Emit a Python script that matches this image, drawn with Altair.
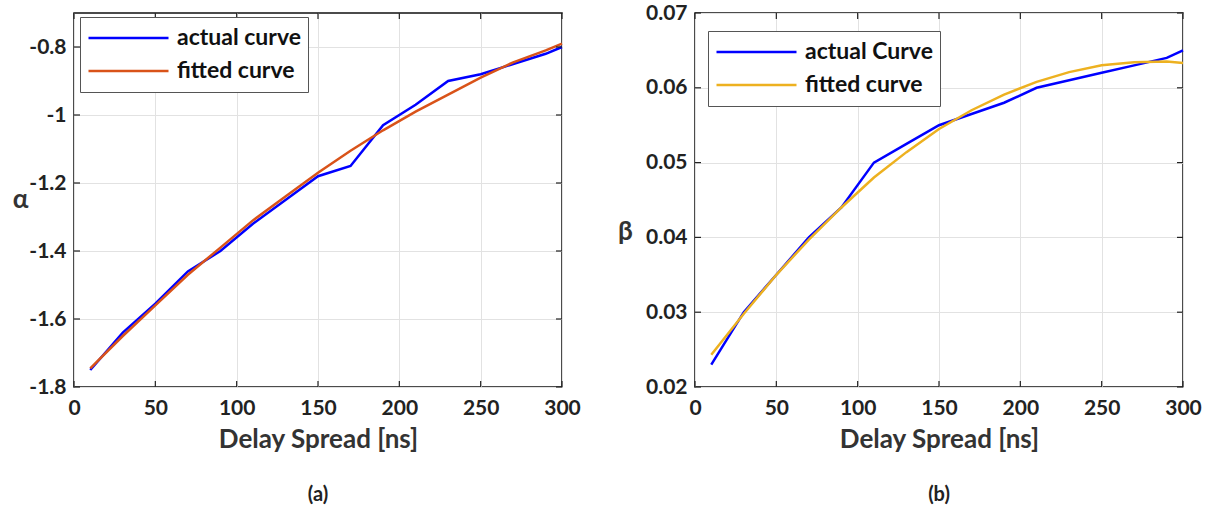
import altair as alt
import pandas as pd

x_vals = [10, 30, 50, 70, 90, 110, 130, 150, 170, 190, 210, 230, 250, 270, 290, 300]

alpha_actual = [-1.75, -1.64, -1.555, -1.46, -1.40, -1.32, -1.25, -1.18, -1.15, -1.03,
                -0.97, -0.90, -0.88, -0.85, -0.82, -0.80]
alpha_fitted = [-1.745, -1.65, -1.56, -1.47, -1.39, -1.31, -1.24, -1.17, -1.105, -1.045,
                -0.99, -0.94, -0.89, -0.845, -0.81, -0.79]

beta_actual = [0.023, 0.030, 0.035, 0.040, 0.044, 0.050, 0.0525, 0.055, 0.0565, 0.058,
               0.060, 0.061, 0.062, 0.063, 0.064, 0.065]
beta_fitted = [0.0243, 0.0298, 0.0350, 0.0397, 0.0440, 0.0480, 0.0514, 0.0545, 0.0570, 0.0591,
               0.0608, 0.0621, 0.0630, 0.0634, 0.0635, 0.0633]

a_names = ["actual curve", "fitted curve"]
b_names = ["actual Curve", "fitted curve"]
x_ticks = [0, 50, 100, 150, 200, 250, 300]
a_ticks = [-1.8, -1.6, -1.4, -1.2, -1.0, -0.8]
b_ticks = [0.02, 0.03, 0.04, 0.05, 0.06, 0.07]

FONT = "Lato"
TICK = 6

df_a = pd.DataFrame({
    "x": x_vals * 2,
    "y": alpha_actual + alpha_fitted,
    "series": [a_names[0]] * len(x_vals) + [a_names[1]] * len(x_vals),
    "order": list(range(len(x_vals))) * 2,
})
df_b = pd.DataFrame({
    "x": x_vals * 2,
    "y": beta_actual + beta_fitted,
    "series": [b_names[0]] * len(x_vals) + [b_names[1]] * len(x_vals),
    "order": list(range(len(x_vals))) * 2,
})

W, H = 488, 374


def xaxis():
    return alt.Axis(values=x_ticks, title="Delay Spread [ns]", labelFlush=False,
                    labelFont=FONT, labelFontSize=21, labelFontWeight="bold", labelColor="#222",
                    titleFont=FONT, titleFontSize=26, titleFontWeight="bold", titleColor="#333",
                    titlePadding=8, labelPadding=10, tickSize=0, domain=False,
                    grid=True, gridColor="#e2e2e2", gridWidth=1)


def panel(df, names, colors, ticks, ydom, ytitle, yfmt, caption, legx, legy, titlex, titley):
    xs = alt.Scale(domain=[0, 300], nice=False)
    ys = alt.Scale(domain=ydom, nice=False, zero=False)
    yaxis = alt.Axis(values=ticks, title=ytitle, labelExpr=yfmt,
                     labelFont=FONT, labelFontSize=21, labelFontWeight="bold", labelColor="#222",
                     titleFont=FONT, titleFontSize=26, titleFontWeight="bold", titleColor="#333",
                     titleAngle=0, titleBaseline="middle", titleAlign="center",
                     titleX=titlex, titleY=titley,
                     labelPadding=8, tickSize=0, domain=False,
                     grid=True, gridColor="#e2e2e2", gridWidth=1)
    lines = alt.Chart(df).mark_line(strokeWidth=2.5).encode(
        x=alt.X("x:Q", scale=xs, axis=xaxis()),
        y=alt.Y("y:Q", scale=ys, axis=yaxis),
        color=alt.Color("series:N", scale=alt.Scale(domain=names, range=colors),
                        legend=alt.Legend(title=None, orient="none", legendX=legx, legendY=legy,
                                          symbolType="stroke", symbolSize=6400, symbolStrokeWidth=2.5,
                                          clipHeight=28,
                                          labelFont=FONT, labelFontSize=23, labelFontWeight="bold",
                                          labelColor="#111", rowPadding=5,
                                          fillColor="white", strokeColor="#555", padding=7,
                                          labelOffset=7)),
        order="order:Q",
    )
    xt = pd.DataFrame({"x": x_ticks})
    yt = pd.DataFrame({"y": ticks})
    rule = dict(color="#222", strokeWidth=1.2)
    bottom = alt.Chart(xt).mark_rule(**rule).encode(
        x=alt.X("x:Q", scale=xs), y=alt.value(H), y2=alt.value(H - TICK))
    top = alt.Chart(xt).mark_rule(**rule).encode(
        x=alt.X("x:Q", scale=xs), y=alt.value(0), y2=alt.value(TICK))
    lft = alt.Chart(yt).mark_rule(**rule).encode(
        y=alt.Y("y:Q", scale=ys), x=alt.value(0), x2=alt.value(TICK))
    rgt = alt.Chart(yt).mark_rule(**rule).encode(
        y=alt.Y("y:Q", scale=ys), x=alt.value(W), x2=alt.value(W - TICK))
    return alt.layer(lines, bottom, top, lft, rgt).properties(
        width=W, height=H,
        title=alt.TitleParams(caption, orient="bottom", font=FONT, fontSize=20, fontWeight="bold",
                              color="#222", offset=33),
    )


left = panel(df_a, a_names, ["#0000ff", "#d95319"], a_ticks, [-1.8, -0.7], "α",
             "(datum.value < 0 ? '-' : '') + format(abs(datum.value), '~g')", "(a)", 6, 4, -54, 186)
right = panel(df_b, b_names, ["#0000ff", "#edb120"], b_ticks, [0.02, 0.07], "β",
              "format(datum.value, '.2f')", "(b)", 13, 18, -70, 218)

chart = alt.hconcat(left, right, spacing=34).resolve_scale(
    color="independent"
).resolve_legend(color="independent").configure(
    padding={"left": 11, "top": 1, "right": 5, "bottom": 5},
    view=alt.ViewConfig(stroke="#111", strokeWidth=1.5),
)

chart.save("out.html", embed_options={"renderer": "svg", "actions": False})
